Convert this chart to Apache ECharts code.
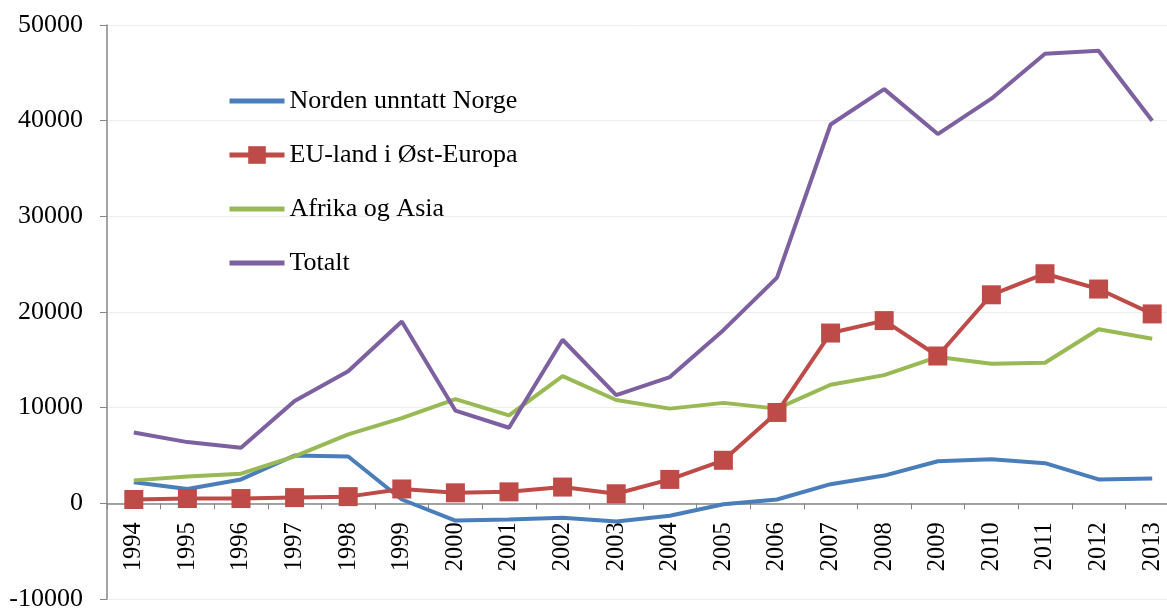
<!DOCTYPE html>
<html>
<head>
<meta charset="utf-8">
<script src="https://cdn.jsdelivr.net/npm/echarts@6/dist/echarts.min.js"></script>
<style>
  html, body { margin: 0; padding: 0; background: #fff; }
  #chart { width: 1167px; height: 611px; }
</style>
</head>
<body>
<div id="chart"></div>
<script>
var years = ['1994', '1995', '1996', '1997', '1998', '1999', '2000', '2001', '2002', '2003',
  '2004', '2005', '2006', '2007', '2008', '2009', '2010', '2011', '2012', '2013'];

var norden = [2200, 1500, 2500, 5000, 4900, 400, -1800, -1700, -1500, -1900,
  -1300, -100, 400, 2000, 2900, 4400, 4600, 4200, 2500, 2600];

var euOst = [400, 500, 500, 600, 700, 1500, 1100, 1200, 1700, 1000,
  2500, 4500, 9500, 17800, 19100, 15400, 21800, 24000, 22400, 19800];

var afrikaAsia = [2400, 2800, 3100, 4900, 7200, 8900, 10900, 9200, 13300, 10800,
  9900, 10500, 9900, 12400, 13400, 15300, 14600, 14700, 18200, 17200];

var totalt = [7400, 6400, 5800, 10700, 13800, 19000, 9700, 7900, 17100, 11300,
  13200, 18100, 23600, 39600, 43300, 38600, 42300, 47000, 47300, 40000];

var font = '"Liberation Serif", "Times New Roman", serif';
var axisGrey = '#868686';
var blue = '#4a7ebb', red = '#be4b48', green = '#98b954', purple = '#7d60a0';

var chart = echarts.init(document.getElementById('chart'), null, { renderer: 'canvas' });

function lineSeries(name, data, color) {
  return {
    name: name,
    type: 'line',
    data: data,
    symbol: 'none',
    lineStyle: { width: 4, color: color },
    itemStyle: { color: color }
  };
}

var eu = lineSeries('EU-land i Øst-Europa', euOst, red);
eu.symbol = 'rect';
eu.symbolSize = 19;

// grid: 25 -> 599 for 60000, so zero sits 1/6 of the height above the bottom
var gridTop = 25, gridBottom = 12;
var zeroOffset = -(611 - gridTop - gridBottom) / 6;

var option = {
  backgroundColor: '#fff',
  animation: false,
  grid: {
    left: 107,
    right: -12,
    top: gridTop,
    bottom: gridBottom,
    outerBoundsMode: 'none',
    containLabel: false
  },
  legend: {
    orient: 'vertical',
    left: 222,
    top: 83,
    itemWidth: 55,
    itemHeight: 22,
    itemGap: 28,
    textStyle: { fontFamily: font, fontSize: 26, color: '#000' },
    data: [
      { name: 'Norden unntatt Norge', itemStyle: { opacity: 0 }, lineStyle: { width: 5 } },
      { name: 'EU-land i Øst-Europa', lineStyle: { width: 5 } },
      { name: 'Afrika og Asia', itemStyle: { opacity: 0 }, lineStyle: { width: 5 } },
      { name: 'Totalt', itemStyle: { opacity: 0 }, lineStyle: { width: 5 } }
    ]
  },
  xAxis: {
    type: 'category',
    data: years,
    boundaryGap: true,
    offset: zeroOffset,
    axisLine: { onZero: false, lineStyle: { color: axisGrey, width: 1.5 } },
    axisTick: { show: true, alignWithLabel: false, length: 6, lineStyle: { color: axisGrey } },
    axisLabel: {
      rotate: 90,
      margin: 19,
      fontFamily: font,
      fontSize: 24.5,
      color: '#000'
    },
    splitLine: { show: false }
  },
  yAxis: {
    type: 'value',
    min: -10000,
    max: 50000,
    interval: 10000,
    axisLine: { show: true, lineStyle: { color: axisGrey, width: 1.5 } },
    axisTick: { show: true, length: 7, lineStyle: { color: axisGrey } },
    axisLabel: {
      margin: 24,
      fontFamily: font,
      fontSize: 26,
      color: '#000',
      formatter: function (v) { return String(v); }
    },
    splitLine: { show: true, lineStyle: { color: '#eeeeee', width: 1 } }
  },
  series: [
    lineSeries('Norden unntatt Norge', norden, blue),
    eu,
    lineSeries('Afrika og Asia', afrikaAsia, green),
    lineSeries('Totalt', totalt, purple)
  ]
};

chart.setOption(option);
</script>
</body>
</html>
